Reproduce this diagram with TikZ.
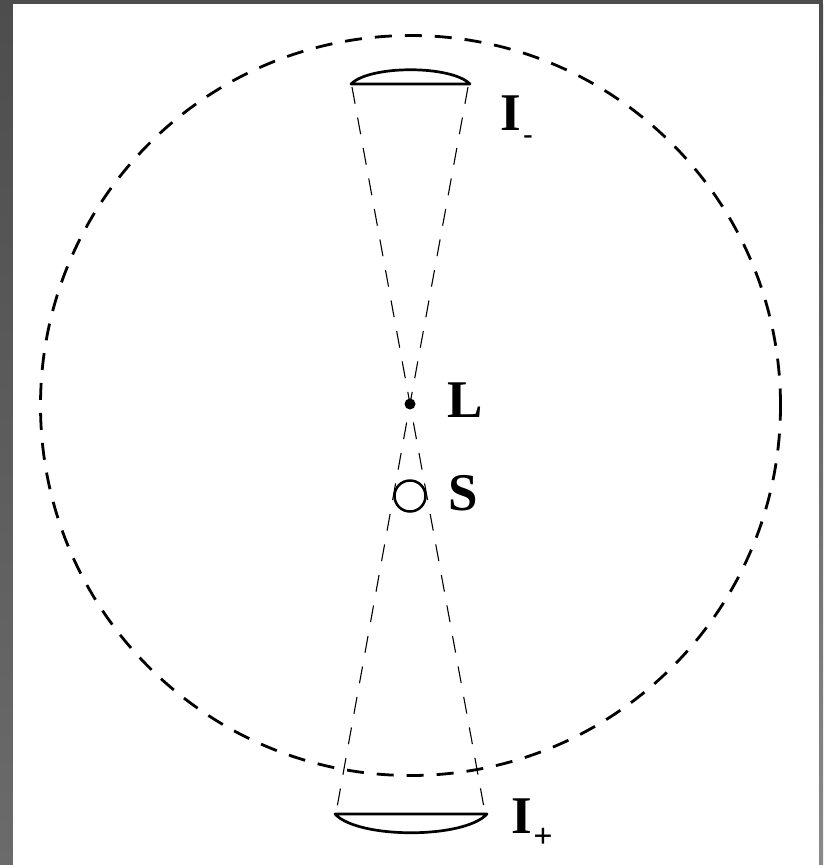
\documentclass[tikz,border=0pt]{standalone}
\usepackage{fontspec}
\setmainfont{Liberation Serif}
\usetikzlibrary{positioning,calc}

\definecolor{frametop}{RGB}{77,77,77}
\definecolor{framebot}{RGB}{107,107,107}
\definecolor{frameright}{RGB}{138,138,138}

\begin{document}
\begin{tikzpicture}[x=1pt, y=-1pt,
  ring/.style={line width=2.8pt, dash pattern=on 17pt off 13pt},
  ray/.style={line width=1.1pt, dash pattern=on 17pt off 14pt},
  lens/.style={draw, line width=2.7pt, line join=round, line cap=round, fill=white},
  lbl/.style={font=\fontsize{53}{53}\selectfont\bfseries, inner sep=0pt},
  sublbl/.style={font=\fontsize{34}{34}\selectfont\bfseries, inner sep=0pt}
]
\useasboundingbox (0,0) rectangle (823,865);
% frame
\shade[top color=frametop, bottom color=framebot] (0,0) rectangle (13,865);
\fill[frametop] (13,0) rectangle (823,4);
\shade[top color=frametop, bottom color=frameright] (819,4) rectangle (823,865);
\fill[white] (13,4) rectangle (819,865);

% dashed sphere
\node[draw, circle, ring, minimum size=740pt, inner sep=0pt] (sphere) at (410.5,405.5) {};

% lens edges
\coordinate (tl) at (352,87);
\coordinate (tr) at (468,87);
\coordinate (bl) at (336,813);
\coordinate (br) at (485,813);

% source points
\node[circle, fill, minimum size=11pt, inner sep=0pt] (L) at (410,404) {};
\node[circle, draw, line width=2.5pt, minimum size=31pt, inner sep=0pt] (S) at (410,496) {};

% rays
\draw[ray] (tl) -- (L.center) -- (br);
\draw[ray] (tr) -- (L.center) -- (bl);

% lenses
\draw[lens] (351,84) .. controls (370,65) and (451,65) .. (470,84) -- cycle;
\draw[lens] (335,814) .. controls (358,839) and (464,839) .. (487,814) -- cycle;

% labels
\node[lbl] (Im) at (511,113) {I};
\node[sublbl, font=\fontsize{28}{28}\selectfont\bfseries] (Imsub) at (528,140) {-};
\node[lbl] (Lname) at (465,400) {L};
\node[lbl] (Sname) at (463,493) {S};
\node[lbl] (Ip) at (522,816) {I};
\node[sublbl] (Ipsub) at (543,838) {+};
\end{tikzpicture}
\end{document}
